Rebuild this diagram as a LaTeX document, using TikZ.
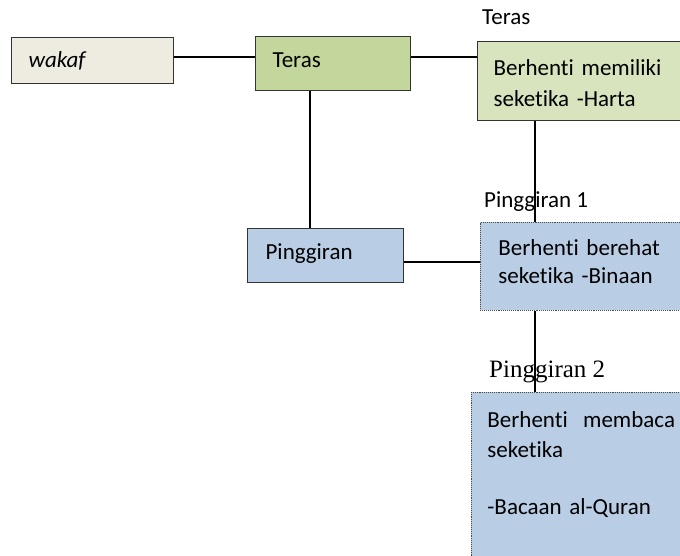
\documentclass[tikz,border=0pt]{standalone}
\usepackage{fontspec}
\setmainfont{Carlito}[Ligatures=NoCommon]
\newfontfamily\timesfont{Liberation Serif}
\usetikzlibrary{positioning}
\definecolor{beige}{HTML}{EEECE1}
\definecolor{terasgreen}{HTML}{C3D69B}
\definecolor{lightgreen}{HTML}{D7E4BD}
\definecolor{paleblue}{HTML}{B9CDE5}
\begin{document}
\begin{tikzpicture}[x=1pt,y=-1pt,
 every node/.style={font=\fontsize{23}{29}\selectfont},
 box/.style={draw=black!80,line width=1.2pt,anchor=north west,align=left,inner ysep=0pt},
 dotbox/.style={draw=black!70,densely dotted,line width=0.9pt,anchor=north west,align=left},
 tag/.style={anchor=base west,inner sep=0pt},
 link/.style={line width=1.1pt}]
\useasboundingbox (0,0) rectangle (680,555);
\clip (0,0) rectangle (680,555);
% boxes
\node[box,fill=beige,text width=128pt,inner xsep=17pt,minimum height=46pt,text height=16pt,text depth=2pt] (wakaf) at (11,37) {\textit{wakaf}};
\node[box,fill=terasgreen,text width=121pt,inner xsep=17pt,minimum height=54pt,text height=14pt,text depth=6pt] (teras) at (255,36) {Teras};
\node[box,fill=lightgreen,text width=208pt,inner xsep=16pt,minimum height=79pt,text height=15pt,text depth=26pt,font=\fontsize{23}{31}\selectfont] (harta) at (477,41) {Berhenti memiliki\\seketika -Harta};
\node[box,fill=paleblue,text width=120pt,inner xsep=18pt,minimum height=54pt,text height=14pt,text depth=6pt] (ping) at (247,228) {Pinggiran};
\node[dotbox,fill=paleblue,text width=204pt,inner xsep=18pt,inner ysep=0pt,minimum height=88pt,text height=14pt,text depth=36pt,font=\fontsize{23}{28}\selectfont] (binaan) at (480,222) {Berhenti berehat\\seketika -Binaan};
\node[dotbox,fill=paleblue,text width=208pt,inner xsep=16pt,inner ysep=19pt,font=\fontsize{23}{30}\selectfont] (quran) at (471,392) {Berhenti\ \ membaca\\seketika\\[27pt]-Bacaan al-Quran\\[60pt]~};
% labels
\node[tag] (lblteras) at (482,24) {Teras};
\node[tag] (lblp1) at (484,207) {Pinggiran 1};
\node[tag,font=\timesfont\fontsize{25}{30}\selectfont] (lblp2) at (489,377) {Pinggiran 2};
% links
\coordinate (row1) at (0,57);
\coordinate (row2) at (0,262);
\coordinate (col1) at (310,0);
\coordinate (col2) at (535,0);
\draw[link] (wakaf.east |- row1) -- (teras.west |- row1);
\draw[link] (teras.east |- row1) -- (harta.west |- row1);
\draw[link] (teras.south -| col1) -- (ping.north -| col1);
\draw[link] (ping.east |- row2) -- (binaan.west |- row2);
\draw[link] (harta.south -| col2) -- (binaan.north -| col2);
\draw[link] (binaan.south -| col2) -- (quran.north -| col2);
\end{tikzpicture}
\end{document}
